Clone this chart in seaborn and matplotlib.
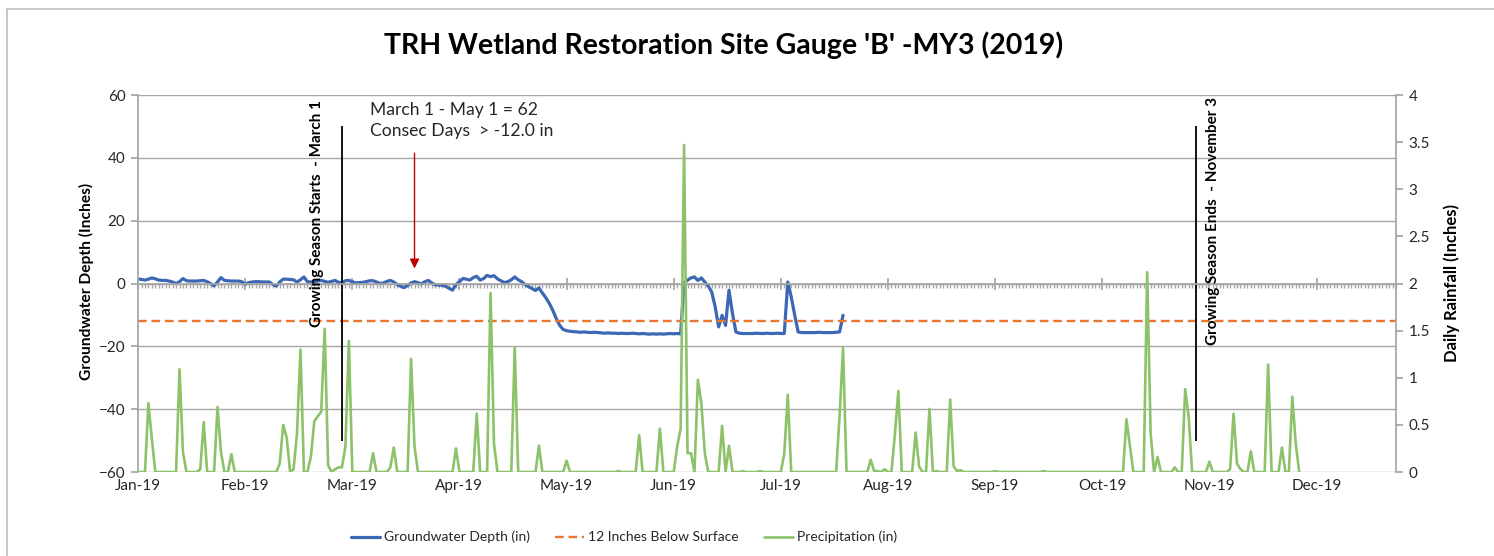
import numpy as np
import pandas as pd
import matplotlib
matplotlib.use("Agg")
import matplotlib.pyplot as plt
import matplotlib.dates as mdates
from matplotlib.lines import Line2D
from matplotlib.ticker import FixedLocator, FuncFormatter
import seaborn as sns


START = pd.Timestamp("2019-01-01")

# daily groundwater depth (in), Jan 1 -> Jul 24
gw_depth = [
    1.5, 1.3, 1.1, 1.4, 1.8, 1.5, 1.1, 1.0, 1.0, 0.8,
    0.5, 0.0, 0.6, 1.6, 0.9, 0.8, 0.8, 0.8, 0.9, 1.0,
    0.6, 0.0, -0.7, 0.5, 1.9, 1.0, 0.9, 0.8, 0.8, 0.8,
    0.6, -0.2, 0.3, 0.5, 0.6, 0.6, 0.5, 0.5, 0.5, -0.3,
    -0.8, 0.5, 1.4, 1.4, 1.3, 1.2, 0.5, 1.2, 2.1, 0.6,
    0.5, 0.6, 0.8, 1.0, 0.7, 0.4, 0.7, 1.0, 0.4, 0.3,
    0.9, 1.0, 0.6, 0.2, 0.3, 0.4, 0.6, 0.9, 0.9, 0.5,
    0.0, 0.2, 0.7, 1.0, 0.5, -0.3, -0.9, -1.3, -0.6, 0.2,
    0.6, 0.3, -0.1, 0.6, 1.0, 0.2, -0.4, -0.5, -0.5, -0.9,
    -1.5, -2.1, -0.3, 0.6, 1.6, 1.4, 1.1, 1.9, 2.3, 1.1,
    1.6, 2.6, 2.2, 2.5, 1.5, 0.9, 0.3, 0.6, 1.2, 2.1,
    1.2, 0.6, -0.3, -1.0, -1.6, -2.2, -1.4, -3.0, -4.5, -6.3,
    -8.5, -11.1, -13.3, -14.6, -15.0, -15.2, -15.3, -15.4, -15.5, -15.4,
    -15.5, -15.6, -15.5, -15.6, -15.7, -15.8, -15.7, -15.8, -15.8, -15.9,
    -15.8, -15.9, -15.9, -15.8, -15.9, -16.0, -15.9, -16.0, -16.1, -16.0,
    -16.1, -16.0, -16.1, -16.0, -15.9, -16.0, -15.9, -16.0, 0.2, 1.1,
    1.8, 2.1, 1.0, 1.8, 0.5, -0.8, -2.7, -7.4, -13.8, -10.1,
    -13.3, -2.1, -9.5, -15.4, -15.8, -15.9, -15.9, -15.9, -15.9, -15.8,
    -15.9, -15.9, -15.8, -15.9, -15.9, -15.8, -15.9, -15.9, 0.5, -4.2,
    -10.0, -15.4, -15.6, -15.6, -15.6, -15.6, -15.6, -15.5, -15.6, -15.6,
    -15.6, -15.6, -15.5, -15.4, -10.1,
]

# rain days (days after Jan 1) and daily rainfall (in); all other days are 0
rain_day = [3, 4, 12, 13, 18, 19, 23, 24, 27,
            41, 42, 43, 45, 46, 47, 50, 51, 52, 53, 54, 55, 57, 58, 59, 60, 61,
            68, 73, 74, 79, 80, 92, 98, 102, 103, 109, 116, 124,
            139, 145, 151, 156, 157, 158, 159, 160, 162, 163, 164, 169, 171,
            175, 180, 187, 188, 203, 204,
            212, 213, 214, 216, 219, 220, 225, 226, 229, 231, 235, 236, 237, 238,
            248, 262, 286, 287, 292, 293, 295, 300, 303, 304, 310,
            316, 317, 318, 319, 322, 327, 331, 334, 335]
rain_in = [0.73, 0.35, 1.09, 0.21, 0.03, 0.53, 0.69, 0.21, 0.19,
           0.09, 0.50, 0.37, 0.03, 0.41, 1.30, 0.16, 0.54, 0.59, 0.64, 1.52, 0.07, 0.03, 0.05, 0.05, 0.27, 1.39,
           0.20, 0.05, 0.26, 1.20, 0.27, 0.25, 0.62, 1.90, 0.30, 1.32, 0.28, 0.12,
           0.01, 0.39, 0.46, 0.27, 0.46, 3.47, 0.20, 0.20, 0.98, 0.73, 0.20, 0.49, 0.28,
           0.01, 0.01, 0.20, 0.82, 0.60, 1.32,
           0.13, 0.01, 0.01, 0.03, 0.40, 0.86, 0.42, 0.06, 0.67, 0.01, 0.77, 0.06, 0.01, 0.02,
           0.01, 0.01, 0.56, 0.28, 2.12, 0.41, 0.16, 0.05, 0.88, 0.59, 0.11,
           0.03, 0.62, 0.09, 0.03, 0.22, 1.14, 0.26, 0.80, 0.30]
precip_days = 337

criteria_depth = -12
season_start = pd.Timestamp("2019-03-01")
season_end = pd.Timestamp("2019-11-03")
arrow_date = pd.Timestamp("2019-03-22")

BLUE = "#3C67B4"
ORANGE = "#E8782F"
GREEN = "#8DC26B"
GRAY = "#A6A6A6"
TXT = "#262626"

sns.set_theme(style="white")
plt.rcParams["font.family"] = ["Lato", "DejaVu Sans"]

gw = pd.DataFrame({"date": pd.date_range(START, periods=len(gw_depth)),
                   "depth": gw_depth})
precip = np.zeros(precip_days)
precip[rain_day] = rain_in
pr = pd.DataFrame({"date": pd.date_range(START, periods=precip_days),
                   "rain": precip})

fig, ax = plt.subplots(figsize=(14.94, 5.56), dpi=100)
fig.subplots_adjust(left=0.0924, right=0.9344, bottom=0.151, top=0.829)
ax2 = ax.twinx()

sns.lineplot(data=gw, x="date", y="depth", ax=ax, color=BLUE, lw=2.3, legend=False)
ax.axhline(criteria_depth, color=ORANGE, lw=1.7, dashes=(3.7, 2.0))
sns.lineplot(data=pr, x="date", y="rain", ax=ax2, color=GREEN, lw=1.9, legend=False)

# x axis: Jan 1 -> Dec 31, labels every 31 days, daily minor ticks
d0 = mdates.date2num(START)
ax.set_xlim(d0, d0 + 364)
ticks = mdates.date2num(pd.date_range(START, periods=12, freq="31D"))
ax.xaxis.set_major_locator(FixedLocator(ticks))
ax.xaxis.set_minor_locator(mdates.DayLocator())
ax.spines["bottom"].set_position(("data", 0))
ax.tick_params(axis="x", which="major", direction="inout", length=9,
               color=GRAY, labelbottom=False, bottom=True)
ax.tick_params(axis="x", which="minor", direction="out", length=3,
               color=GRAY, bottom=True)
ax.set_xlabel("")

sec = ax.secondary_xaxis("bottom")
sec.xaxis.set_major_locator(FixedLocator(ticks))
sec.xaxis.set_major_formatter(mdates.DateFormatter("%b-%y"))
sec.tick_params(length=0, pad=5, labelsize=11, labelcolor=TXT)
sec.spines["bottom"].set_visible(False)

ax.set_ylim(-60, 60)
ax.set_yticks(range(-60, 61, 20))
ax.yaxis.grid(True, color=GRAY, lw=1)
ax.tick_params(axis="y", direction="out", length=5, color=GRAY,
               labelsize=11, labelcolor=TXT, left=True, pad=4)
ax.set_ylabel("")

ax2.set_ylim(0, 4)
ax2.set_yticks(np.arange(0, 4.01, 0.5))
ax2.yaxis.set_major_formatter(FuncFormatter(lambda v, p: f"{v:g}"))
ax2.tick_params(axis="y", direction="out", length=5, color=GRAY,
                labelsize=11, labelcolor=TXT, right=True, pad=4)
ax2.set_ylabel("")
ax2.grid(False)

for a in (ax, ax2):
    for s in a.spines.values():
        s.set_color(GRAY)
    a.spines["top"].set_visible(False)
ax.spines["right"].set_visible(False)
ax2.spines["left"].set_visible(False)
ax2.spines["bottom"].set_visible(False)

# growing season markers
ax.vlines([season_start, season_end], -50, 50, color="black", lw=1.3)
ax.text(mdates.date2num(season_start) - 7.1, 58.5, "Growing Season Starts  - March 1",
        rotation=90, ha="center", va="top", fontsize=11, fontweight="bold", color="black")
ax.text(mdates.date2num(season_end) + 5.1, 59.5, "Growing Season Ends  - November 3",
        rotation=90, ha="center", va="top", fontsize=11, fontweight="bold", color="black")

ax.text(d0 + 67, 57.8, "March 1 - May 1 = 62\nConsec Days  > -12.0 in",
        ha="left", va="top", fontsize=12.6, linespacing=1.38, color=TXT)
ax.annotate("", xy=(mdates.date2num(arrow_date), 4.8),
            xytext=(mdates.date2num(arrow_date), 41.5),
            arrowprops=dict(arrowstyle="-|>", color="#C00000", lw=1,
                            mutation_scale=14, shrinkA=0, shrinkB=0))

fig.text(0.4846, 0.919, "TRH Wetland Restoration Site Gauge 'B' -MY3 (2019)",
         ha="center", va="center", fontsize=20.5, fontweight="bold", color="black")
fig.text(0.058, 0.493, "Groundwater Depth (Inches)", rotation=90,
         ha="center", va="center", fontsize=11.2, fontweight="bold", color="black")
fig.text(0.972, 0.491, "Daily Rainfall (Inches)", rotation=90,
         ha="center", va="center", fontsize=12, fontweight="bold", color="black")

handles = [Line2D([], [], color=BLUE, lw=2.3),
           Line2D([], [], color=ORANGE, lw=1.7, dashes=(3.7, 2.0)),
           Line2D([], [], color=GREEN, lw=1.9)]
labels = ["Groundwater Depth (in)", "12 Inches Below Surface", "Precipitation (in)"]
fig.legend(handles, labels, loc="center", bbox_to_anchor=(0.4177, 0.034), ncol=3,
           frameon=False, handlelength=2.1, columnspacing=1.8, handletextpad=0.3,
           fontsize=10, labelcolor=TXT)

# chart border
fig.add_artist(Line2D([0.0044, 1.0], [0.984, 0.984], transform=fig.transFigure,
                      color="#BFBFBF", lw=1.2))
fig.add_artist(Line2D([0.0044, 0.0044], [0.0, 0.984], transform=fig.transFigure,
                      color="#BFBFBF", lw=1.2))

fig.savefig("out.png", dpi=100)
